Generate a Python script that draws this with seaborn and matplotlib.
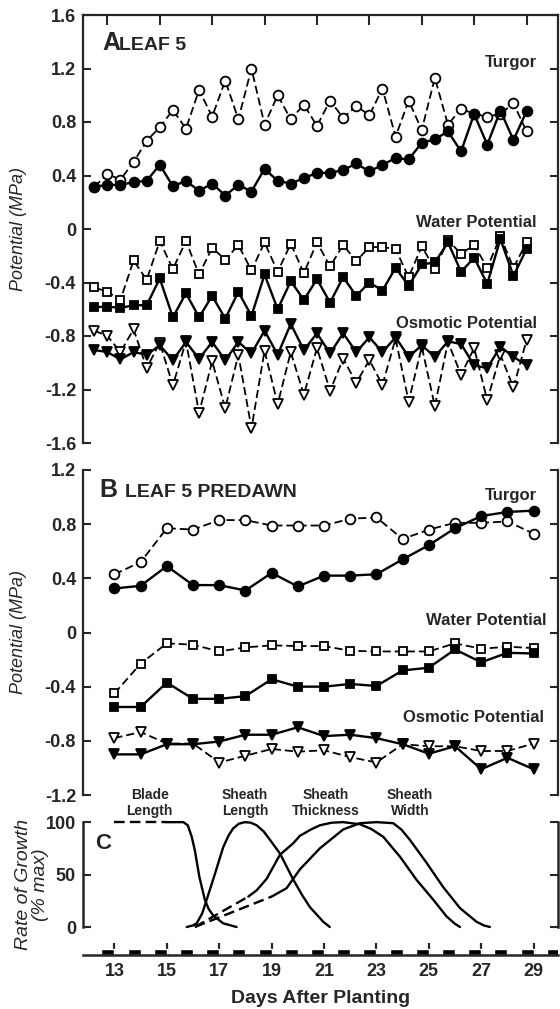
import matplotlib
matplotlib.use('Agg')
import matplotlib.pyplot as plt
import seaborn as sns

sns.set_style('ticks')
plt.rcParams['font.family'] = ['Liberation Sans', 'DejaVu Sans']

# ---- Panel A: leaf 5, sampled twice a day ----
days_a = [12.5, 13.0, 13.5, 14.0, 14.5, 15.0, 15.5, 16.0, 16.5, 17.0, 17.5, 18.0,
          18.5, 19.0, 19.5, 20.0, 20.5, 21.0, 21.5, 22.0, 22.5, 23.0, 23.5, 24.0,
          24.5, 25.0, 25.5, 26.0, 26.5, 27.0, 27.5, 28.0, 28.5, 29.0]
turgor_a_open = [0.315, 0.41, 0.37, 0.50, 0.66, 0.76, 0.89, 0.75, 1.04, 0.84, 1.11, 0.82,
                 1.20, 0.78, 1.00, 0.82, 0.93, 0.77, 0.96, 0.83, 0.92, 0.85, 1.05, 0.69,
                 0.96, 0.74, 1.13, 0.78, 0.90, 0.86, 0.84, 0.86, 0.94, 0.73]
turgor_a_fill = [0.315, 0.33, 0.33, 0.35, 0.36, 0.48, 0.32, 0.36, 0.285, 0.34, 0.25, 0.33,
                 0.28, 0.45, 0.36, 0.34, 0.38, 0.42, 0.42, 0.44, 0.49, 0.43, 0.48, 0.53,
                 0.52, 0.645, 0.67, 0.73, 0.58, 0.86, 0.63, 0.885, 0.665, 0.88]
water_a_open = [-0.437, -0.47, -0.53, -0.235, -0.38, -0.09, -0.30, -0.09, -0.34, -0.14, -0.23, -0.12,
                -0.31, -0.10, -0.32, -0.11, -0.33, -0.10, -0.28, -0.12, -0.24, -0.135, -0.135, -0.15,
                -0.36, -0.13, -0.30, -0.085, -0.185, -0.12, -0.29, -0.055, -0.29, -0.10]
water_a_fill = [-0.585, -0.58, -0.59, -0.57, -0.57, -0.37, -0.66, -0.48, -0.66, -0.50, -0.67, -0.47,
                -0.65, -0.34, -0.60, -0.39, -0.53, -0.375, -0.55, -0.36, -0.50, -0.40, -0.46, -0.29,
                -0.425, -0.265, -0.25, -0.10, -0.32, -0.215, -0.41, -0.075, -0.35, -0.15]
osmotic_a_open = [-0.76, -0.80, -0.92, -0.75, -1.04, -0.85, -1.17, -0.84, -1.375, -0.99, -1.34, -0.94,
                  -1.49, -0.91, -1.31, -0.92, -1.24, -0.89, -1.21, -0.97, -1.15, -0.98, -1.165, -0.82,
                  -1.29, -0.88, -1.325, -0.845, -1.09, -0.89, -1.28, -0.94, -1.185, -0.83]
osmotic_a_fill = [-0.905, -0.92, -0.975, -0.92, -0.94, -0.87, -0.98, -0.845, -0.97, -0.845, -0.98, -0.845,
                  -0.93, -0.76, -0.94, -0.71, -0.905, -0.78, -0.93, -0.78, -0.92, -0.81, -0.92, -0.81,
                  -0.955, -0.87, -0.955, -0.84, -0.86, -1.02, -1.04, -0.88, -0.955, -1.02]

# ---- Panel B: leaf 5 predawn ----
days_b = [13, 14, 15, 16, 17, 18, 19, 20, 21, 22, 23, 24, 25, 26, 27, 28, 29]
turgor_b_open = [0.43, 0.52, 0.77, 0.76, 0.83, 0.83, 0.79, 0.79, 0.79, 0.84, 0.85,
                 0.69, 0.76, 0.81, 0.81, 0.82, 0.73]
turgor_b_fill = [0.325, 0.345, 0.49, 0.35, 0.35, 0.31, 0.44, 0.34, 0.42, 0.42, 0.43,
                 0.54, 0.645, 0.77, 0.86, 0.89, 0.90]
water_b_open = [-0.45, -0.23, -0.08, -0.09, -0.14, -0.11, -0.095, -0.10, -0.10, -0.135, -0.14,
                -0.14, -0.14, -0.08, -0.12, -0.105, -0.115]
water_b_fill = [-0.55, -0.55, -0.37, -0.49, -0.49, -0.47, -0.345, -0.40, -0.40, -0.38, -0.395,
                -0.28, -0.26, -0.125, -0.22, -0.15, -0.155]
osmotic_b_open = [-0.78, -0.735, -0.82, -0.82, -0.96, -0.91, -0.86, -0.88, -0.87, -0.92, -0.96,
                  -0.825, -0.84, -0.84, -0.875, -0.875, -0.82]
osmotic_b_fill = [-0.90, -0.90, -0.825, -0.825, -0.805, -0.755, -0.755, -0.70, -0.765, -0.755, -0.78,
                  -0.825, -0.895, -0.84, -1.01, -0.925, -1.01]

# ---- Panel C: rate of growth (% of max) ----
blade_dash_x = [13.0, 14.93]
blade_dash_y = [100, 100]
blade_x = [14.93, 15.63, 15.8, 15.95, 16.07, 16.24, 16.45, 16.6, 16.77, 17.15, 17.66]
blade_y = [100, 100, 97, 86, 73, 48, 26, 17, 11, 3.5, 0]
sh_len_x = [15.76, 16.0, 16.14, 16.35, 16.52, 16.84, 17.15, 17.35, 17.53, 17.75, 17.98, 18.2,
            18.43, 18.7, 18.94, 19.32, 19.83, 20.15, 20.46, 20.97, 21.22]
sh_len_y = [0, 1.5, 3.5, 13, 26, 51, 76, 87, 94, 98.5, 100, 99.5, 97, 91, 83, 70, 45, 31, 19, 5, 0]
sh_thk_dash_x = [16.07, 18.11]
sh_thk_dash_y = [0, 29]
sh_thk_x = [18.11, 18.43, 18.81, 19.32, 19.83, 20.08, 20.5, 20.84, 21.3, 21.73, 22.37,
            22.8, 23.26, 23.9, 24.53, 25.17, 25.68, 26.0, 26.19]
sh_thk_y = [29, 35, 46, 69, 80, 87, 93, 97, 99.5, 100, 98, 93.5, 86, 67, 45, 26, 10, 3, 0]
sh_wid_dash_x = [16.07, 19.0]
sh_wid_dash_y = [0, 29]
sh_wid_x = [19.0, 19.57, 20.08, 20.84, 21.73, 22.37, 23.01, 23.64, 23.95, 24.28, 24.92, 25.55,
            26.19, 26.82, 27.1, 27.33]
sh_wid_y = [29, 37, 55, 75, 93, 99, 100, 99, 93, 83, 61, 38, 18, 5, 1.5, 0]
growth_labels = ['Blade\nLength', 'Sheath\nLength', 'Sheath\nThickness', 'Sheath\nWidth']
growth_label_x = [14.35, 17.98, 21.07, 24.28]
night_end = [13, 14, 15, 16, 17, 18, 19, 20, 21, 22, 23, 24, 25, 26, 27, 28, 29, 30]

day_ticks = [13, 15, 17, 19, 21, 23, 25, 27, 29]
day_labels = ['13', '15', '17', '19', '21', '23', '25', '27', '29']
yticks_a = [1.6, 1.2, 0.8, 0.4, 0, -0.4, -0.8, -1.2, -1.6]
ylabels_a = ['1.6', '1.2', '0.8', '0.4', '0', '-0.4', '-0.8', '-1.2', '-1.6']
yticks_b = [1.2, 0.8, 0.4, 0, -0.4, -0.8, -1.2]
ylabels_b = ['1.2', '0.8', '0.4', '0', '-0.4', '-0.8', '-1.2']
yticks_c = [0, 50, 100]
ylabels_c = ['0', '50', '100']

W, H = 560, 1009
fig = plt.figure(figsize=(W / 100, H / 100), dpi=100)
axA = fig.add_axes([83 / W, 1 - 443 / H, 475 / W, 428 / H])
axB = fig.add_axes([83 / W, 1 - 795 / H, 475 / W, 325 / H])
axC = fig.add_axes([83 / W, 1 - 955 / H, 475 / W, 136 / H])

DASH = (0, (4.5, 2.2))


def series(ax, x, y, marker, filled, ms):
    sns.lineplot(x=x, y=y, ax=ax, color='black', errorbar=None,
                 linestyle='-' if filled else DASH,
                 linewidth=1.7 if filled else 1.3,
                 marker=marker, markersize=ms,
                 markerfacecolor='black' if filled else 'white',
                 markeredgecolor='black', markeredgewidth=1.3, clip_on=False)


def style_potential_axis(ax, ticks, labels):
    ax.set_yticks(ticks)
    ax.set_yticklabels(labels, fontsize=13, fontweight='bold')
    ax.tick_params(axis='y', direction='in', left=True, right=True,
                   length=6, width=1.5, pad=5)
    for s in ['left', 'right', 'top']:
        ax.spines[s].set_linewidth(1.6)
    ax.spines['bottom'].set_visible(False)


# Panel A
series(axA, days_a, turgor_a_open, 'o', False, 7)
series(axA, days_a, turgor_a_fill, 'o', True, 7)
series(axA, days_a, water_a_open, 's', False, 6)
series(axA, days_a, water_a_fill, 's', True, 6)
series(axA, days_a, osmotic_a_open, 'v', False, 7)
series(axA, days_a, osmotic_a_fill, 'v', True, 7)
axA.set_xlim(12.07, 30.2)
axA.set_ylim(-1.6, 1.6)
style_potential_axis(axA, yticks_a, ylabels_a)
axA.set_xticks(day_ticks)
axA.tick_params(axis='x', direction='in', top=True, bottom=False, labelbottom=False,
                length=7, width=1.5)
axA.set_xlabel('')
axA.set_ylabel('Potential (MPa)', fontsize=13, style='italic')
axA.yaxis.set_label_coords(-0.118, 0.5)
axA.text(0.04, 0.918, 'A', transform=axA.transAxes, fontsize=18, fontweight='bold')
axA.text(0.076, 0.918, 'LEAF 5', transform=axA.transAxes, fontsize=14, fontweight='bold')
axA.text(0.955, 0.89, 'Turgor', transform=axA.transAxes, ha='right', va='center',
         fontsize=12, fontweight='bold')
axA.text(0.955, 0.516, 'Water Potential', transform=axA.transAxes, ha='right', va='center',
         fontsize=12, fontweight='bold')
axA.text(0.955, 0.28, 'Osmotic Potential', transform=axA.transAxes, ha='right', va='center',
         fontsize=12, fontweight='bold')

# Panel B
series(axB, days_b, turgor_b_open, 'o', False, 7)
series(axB, days_b, turgor_b_fill, 'o', True, 7)
series(axB, days_b, water_b_open, 's', False, 6)
series(axB, days_b, water_b_fill, 's', True, 6)
series(axB, days_b, osmotic_b_open, 'v', False, 7)
series(axB, days_b, osmotic_b_fill, 'v', True, 7)
axB.set_xlim(11.8, 29.93)
axB.set_ylim(-1.2, 1.2)
style_potential_axis(axB, yticks_b, ylabels_b)
axB.spines['top'].set_visible(False)
axB.set_xticks([])
axB.set_xlabel('')
axB.set_ylabel('Potential (MPa)', fontsize=13, style='italic')
axB.yaxis.set_label_coords(-0.118, 0.5)
axB.text(0.035, 0.917, 'B', transform=axB.transAxes, fontsize=18, fontweight='bold')
axB.text(0.088, 0.917, 'LEAF 5 PREDAWN', transform=axB.transAxes, fontsize=14, fontweight='bold')
axB.text(0.955, 0.923, 'Turgor', transform=axB.transAxes, ha='right', va='center',
         fontsize=12, fontweight='bold')
axB.text(0.975, 0.538, 'Water Potential', transform=axB.transAxes, ha='right', va='center',
         fontsize=12, fontweight='bold')
axB.text(0.97, 0.24, 'Osmotic Potential', transform=axB.transAxes, ha='right', va='center',
         fontsize=12, fontweight='bold')

# Panel C
c_bottom = -26.7
for xs, ys, dashed in [(blade_dash_x, blade_dash_y, True), (blade_x, blade_y, False),
                       (sh_len_x, sh_len_y, False),
                       (sh_thk_dash_x, sh_thk_dash_y, True), (sh_thk_x, sh_thk_y, False),
                       (sh_wid_dash_x, sh_wid_dash_y, True), (sh_wid_x, sh_wid_y, False)]:
    sns.lineplot(x=xs, y=ys, ax=axC, color='black', errorbar=None, sort=False,
                 linestyle=DASH if dashed else '-', linewidth=1.7, clip_on=False)
# dark periods drawn as blocks on the time axis
axC.bar(night_end, 6, width=-0.5, align='edge', bottom=c_bottom, color='black')
axC.set_xlim(11.8, 29.93)
axC.set_ylim(c_bottom, 103)
axC.set_yticks(yticks_c)
axC.set_yticklabels(ylabels_c, fontsize=13, fontweight='bold')
axC.tick_params(axis='y', direction='in', left=True, right=True, length=6, width=1.5, pad=5)
axC.spines['left'].set_bounds(0, 100)
axC.spines['right'].set_bounds(0, 100)
axC.spines['top'].set_visible(False)
for s in ['left', 'right', 'bottom']:
    axC.spines[s].set_linewidth(1.8)
axC.set_xticks(day_ticks)
axC.set_xticklabels(day_labels, fontsize=13, fontweight='bold')
axC.tick_params(axis='x', direction='in', length=9, width=1.6, pad=6)
axC.set_xlabel('Days After Planting', fontsize=14, fontweight='bold', labelpad=7)
axC.set_ylabel('Rate of Growth\n(% max)', fontsize=14, style='italic', linespacing=1.0)
axC.yaxis.set_label_coords(-0.072, 0.52)
axC.text(12.55, 80, 'C', fontsize=16, fontweight='bold', va='center', ha='center')
for lab, gx in zip(growth_labels, growth_label_x):
    axC.text(gx, 118, lab, fontsize=10, fontweight='bold', ha='center', va='center',
             linespacing=1.15)

fig.savefig('out.png', dpi=100)
